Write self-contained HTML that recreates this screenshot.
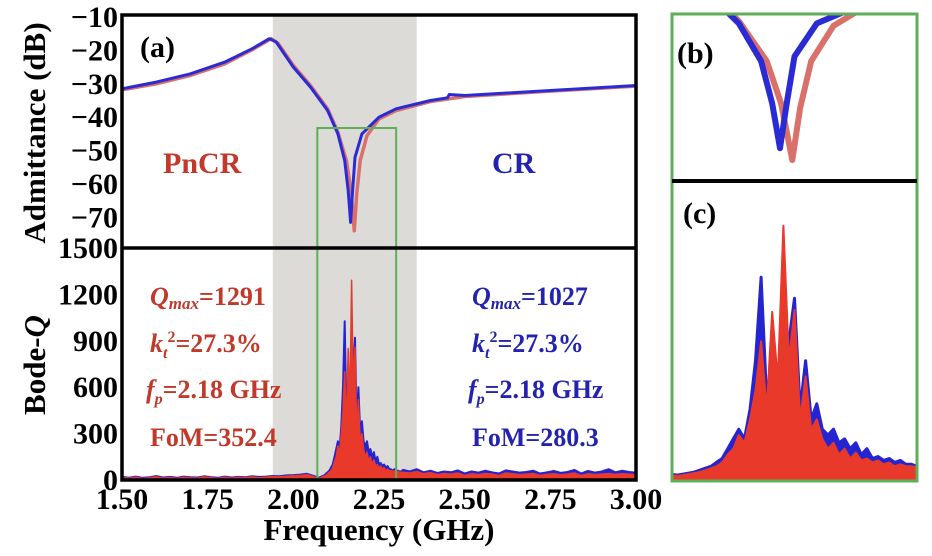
<!DOCTYPE html>
<html><head><meta charset="utf-8">
<style>
html,body{margin:0;padding:0;background:#fff;}
svg{display:block;}
text{font-family:"Liberation Serif","Times New Roman",Times,"DejaVu Serif",serif;font-weight:bold;}
</style></head>
<body>
<svg id="chart" width="932" height="556" viewBox="0 0 932 556" xmlns="http://www.w3.org/2000/svg">
<g id="g"></g>
</svg>
<script>
// ---- data ----
const admF   = [1.50,1.60,1.70,1.80,1.88,1.93,1.95,2.00,2.05,2.10,2.13,2.15,2.16,2.167,2.173,2.18,2.20,2.25,2.30,2.40,2.45,2.455,2.50,2.75,3.00];
const admBlue= [-31.5,-29.5,-27,-23.5,-19.5,-16.5,-17.5,-25,-31,-38,-45,-53,-62,-71.5,-62,-52,-45,-40,-37.5,-35,-34.2,-33.2,-33.5,-32,-30.5];
const admRedF= [1.50,1.60,1.70,1.80,1.88,1.935,1.955,2.00,2.05,2.10,2.13,2.155,2.168,2.178,2.185,2.195,2.215,2.25,2.30,2.40,2.50,2.75,3.00];
const admRed = [-31.8,-30,-27.5,-24,-19.8,-16.5,-17.8,-24.5,-30.5,-37.5,-44.5,-53,-62,-74,-63,-53,-45.5,-40.5,-38,-35.3,-33.8,-32.2,-30.7];
const qLow  = {start:1.50, step:0.02};
const qRedLow  = [15,12,18,10,14,20,12,16,10,18,14,12,20,15,10,18,12,16,14,20,15,18,22,20,25,28,30,35];
const qBlueLow = [20,15,22,14,18,25,16,20,14,22,18,16,24,18,14,22,16,20,18,24,20,22,26,24,30,32,35,40];
const qMid  = {start:2.075, step:0.005};
const qRedMid  = [10,15,20,25,30,40,50,60,80,120,150,220,180,300,450,700,350,850,500,1291,600,860,300,520,250,300,200,150,180,120,150,100,130,90,100,80,90,70,80,60,70,60,60,55,60,50,55,50,50];
const qBlueMid = [15,20,25,30,40,50,60,80,100,150,200,250,200,350,600,1027,400,650,300,800,700,920,350,600,300,380,250,220,250,180,200,150,180,120,150,100,110,90,100,80,90,70,70,60,70,60,60,55,55];
const qHigh = {start:2.32, step:0.02};
const qRedHigh  = [50,45,55,40,48,35,42,38,45,30,40,35,42,38,30,45,40,35,38,42,30,36,40,34,38,45,30,40,35,38,42,36,40,38,35];
const qBlueHigh = [65,55,70,50,60,45,55,50,62,42,55,48,60,50,42,62,55,48,52,60,42,50,58,46,52,65,42,58,48,55,70,50,60,52,48];
const xTicks = [1.50,1.75,2.00,2.25,2.50,2.75,3.00];
const admTicks = [-10,-20,-30,-40,-50,-60,-70];
const qTicks = [0,300,600,900,1200,1500];

// ---- scales ----
const X0=122,X1=636, TOP=15, MID=248, BOT=480;
const xS = f => X0+(f-1.5)/1.5*(X1-X0);
const yA = d => 17+(-10-d)/10*33.4;
const yQ = q => 480-q/1500*232;
const ixS = f => 672+(f-2.07)/0.22*245;
const iyA = d => 14+(-43-d)/31*146;
const iyQ = q => 478-q/1520*297;

const NS="http://www.w3.org/2000/svg";
const g=document.getElementById('g');
function el(tag,attrs,parent){const e=document.createElementNS(NS,tag);for(const k in attrs)e.setAttribute(k,attrs[k]);(parent||g).appendChild(e);return e;}
function qSeries(lo,mid,hi){const p=[];lo.forEach((v,i)=>p.push([qLow.start+i*qLow.step,v]));mid.forEach((v,i)=>p.push([qMid.start+i*qMid.step,v]));hi.forEach((v,i)=>p.push([qHigh.start+i*qHigh.step,v]));return p;}
const qRed=qSeries(qRedLow,qRedMid,qRedHigh), qBlue=qSeries(qBlueLow,qBlueMid,qBlueHigh);

let e=el('rect',{x:xS(1.94),y:TOP,width:xS(2.36)-xS(1.94),height:BOT-TOP,fill:'#dcdbd8'});



const defs=el('defs',{});
const cp=el('clipPath',{id:'cm'},defs); el('rect',{x:X0,y:TOP,width:X1-X0,height:BOT-TOP},cp);
const cb=el('clipPath',{id:'cb'},defs); el('rect',{x:672,y:14,width:245,height:167},cb);
const cc=el('clipPath',{id:'cc'},defs); el('rect',{x:672,y:181,width:245,height:299},cc);

function line(fs,vs,xf,yf,color,w,name,clip){const pts=fs.map((f,i)=>xf(f).toFixed(1)+','+yf(vs[i]).toFixed(1)).join(' ');const p=el('polyline',{points:pts,fill:'none',stroke:color,'stroke-width':w,'stroke-linejoin':'round','clip-path':'url(#'+clip+')'});}
function area(pts,xf,yf,base,color,w,name,clip){const s=pts.map(p=>xf(p[0]).toFixed(1)+','+yf(p[1]).toFixed(1));const poly=xf(pts[0][0]).toFixed(1)+','+base+' '+s.join(' ')+' '+xf(pts[pts.length-1][0]).toFixed(1)+','+base;const p=el('polygon',{points:poly,fill:color,stroke:color,'stroke-width':w,'stroke-linejoin':'round','clip-path':'url(#'+clip+')'});}

line(admRedF,admRed,xS,yA,'#d9706a',3.5,'admittance-pncr-line','cm');
line(admF,admBlue,xS,yA,'#2b2bd6',3,'admittance-cr-line','cm');
area(qBlue,xS,yQ,BOT,'#2424d0',2,'bodeq-cr-series','cm');
area(qRed,xS,yQ,BOT,'#e8392a',1.5,'bodeq-pncr-series','cm');

e=el('rect',{x:xS(2.07),y:128,width:xS(2.30)-xS(2.07),height:BOT-128,fill:'none',stroke:'#5fae5a','stroke-width':2});



e=el('rect',{x:X0,y:TOP,width:X1-X0,height:BOT-TOP,fill:'none',stroke:'#000','stroke-width':3.5});


e=el('line',{x1:X0,y1:MID,x2:X1,y2:MID,stroke:'#000','stroke-width':3.5});



function txt(s,x,y,size,color,anchor,name,extra){const t=el('text',Object.assign({x:x,y:y,'font-size':size,fill:color,'text-anchor':anchor||'start','font-weight':'bold'},extra||{}));t.textContent=s;return t;}
xTicks.forEach(v=>{txt(v.toFixed(2),xS(v),509,30,'#000','middle','x-tick-label');});
admTicks.forEach(v=>{txt('\u2212'+Math.abs(v),118,yA(v)+10,30,'#000','end','y-tick-label-admittance');});
qTicks.forEach(v=>{txt(String(v),118,yQ(v)+10,30,'#000','end','y-tick-label-q');});
txt('Frequency (GHz)',379,540,31,'#000','middle','x-axis-title');
txt('Admittance (dB)',0,0,31,'#000','middle','y-axis-title-admittance',{transform:'translate(45,133) rotate(-90)'});
let t=txt('Bode-',0,0,31,'#000','middle','y-axis-title-q',{transform:'translate(45,365) rotate(-90)'});
let ts=el('tspan',{'font-style':'italic'},t); ts.textContent='Q';
txt('(a)',140,57,30,'#000','start','panel-label-a');
txt('PnCR',163,173,30,'#c0392b','start','pncr-label');
txt('CR',492,173,30,'#2323b0','start','cr-label');

function stats(x,color,q,name){
 let a=txt('',x,305,26,color,'start',name+'-qmax');
 let s=el('tspan',{'font-style':'italic'},a);s.textContent='Q';
 s=el('tspan',{'font-style':'italic','font-size':17,dy:4},a);s.textContent='max';
 s=el('tspan',{dy:-4},a);s.textContent='='+q;
 a=txt('',x,352,26,color,'start',name+'-kt2');
 s=el('tspan',{'font-style':'italic'},a);s.textContent='k';
 s=el('tspan',{'font-style':'italic','font-size':16,dy:6},a);s.textContent='t';
 s=el('tspan',{'font-size':16,dy:-16},a);s.textContent='2';
 s=el('tspan',{dy:10},a);s.textContent='=27.3%';
 a=txt('',x-4,398,26,color,'start',name+'-fp');
 s=el('tspan',{'font-style':'italic'},a);s.textContent='f';
 s=el('tspan',{'font-style':'italic','font-size':16,dy:6},a);s.textContent='p';
 s=el('tspan',{dy:-6},a);s.textContent='=2.18 GHz';
 txt('FoM='+(name==='pncr'?'352.4':'280.3'),x,446,26,color,'start',name+'-fom');
}
stats(150,'#c0392b','1291','pncr');
stats(472,'#2323b0','1027','cr');

line(admRedF,admRed,ixS,iyA,'#d9706a',6,'inset-b-pncr-line','cb');
line(admF,admBlue,ixS,iyA,'#2b2bd6',6,'inset-b-cr-line','cb');
area(qBlue,ixS,iyQ,480,'#2424d0',3,'inset-c-cr-series','cc');
area(qRed,ixS,iyQ,480,'#e8392a',2,'inset-c-pncr-series','cc');
e=el('rect',{x:672,y:14,width:245,height:467,fill:'none',stroke:'#5fae5a','stroke-width':3});


e=el('line',{x1:672,y1:181,x2:917,y2:181,stroke:'#000','stroke-width':4});


txt('(b)',677,63,30,'#000','start','panel-label-b');
txt('(c)',683,223,30,'#000','start','panel-label-c');
</script>
</body></html>
